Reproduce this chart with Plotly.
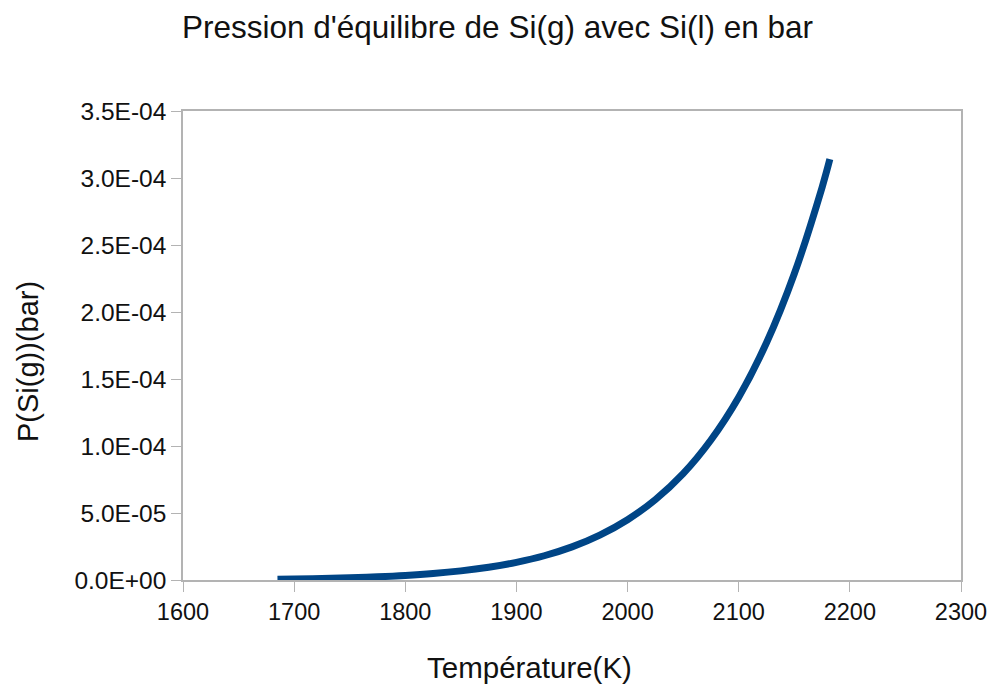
import plotly.graph_objects as go

# Equilibrium pressure of Si(g) over liquid Si, temperature in K, pressure in bar
temperature_k = [1685, 1700, 1725, 1750, 1775, 1800, 1825, 1850, 1875, 1900,
                 1925, 1950, 1975, 2000, 2025, 2050, 2075, 2100, 2125, 2150,
                 2175, 2182]
pressure_bar = [5.8e-7, 7.4e-7, 1.10e-6, 1.61e-6, 2.35e-6, 3.38e-6, 4.81e-6,
                6.80e-6, 9.52e-6, 1.32e-5, 1.81e-5, 2.47e-5, 3.35e-5, 4.50e-5,
                6.00e-5, 7.94e-5, 1.045e-4, 1.364e-4, 1.77e-4, 2.285e-4,
                2.93e-4, 3.14e-4]

x_ticks = [1600, 1700, 1800, 1900, 2000, 2100, 2200, 2300]
y_ticks = [0, 5e-5, 1e-4, 1.5e-4, 2e-4, 2.5e-4, 3e-4, 3.5e-4]
y_tick_labels = ["0.0E+00", "5.0E-05", "1.0E-04", "1.5E-04",
                 "2.0E-04", "2.5E-04", "3.0E-04", "3.5E-04"]

FONT = "Liberation Sans, Arial, sans-serif"
AXIS_GREY = "#b3b3b3"
TEXT = "#111111"
W, H = 989, 685

fig = go.Figure(
    go.Scatter(
        x=temperature_k,
        y=pressure_bar,
        mode="lines",
        line=dict(color="#004586", width=7, shape="spline"),
        hoverinfo="x+y",
    )
)

fig.update_layout(
    width=W,
    height=H,
    margin=dict(l=183, r=28, t=111, b=105),
    paper_bgcolor="white",
    plot_bgcolor="white",
    showlegend=False,
    font=dict(family=FONT, color=TEXT),
    title=dict(
        text="Pression d'équilibre de Si(g) avec Si(l) en bar",
        x=0.503, xanchor="center", xref="container",
        y=1 - 27 / H, yanchor="middle", yref="container",
        font=dict(size=31.5, family=FONT, color=TEXT),
    ),
    annotations=[
        # axis titles placed independently of the plot-area centre
        dict(text="Température(K)", xref="paper", yref="paper",
             x=(529 - 183) / (961 - 183), y=-(667 - 580) / (580 - 111),
             xanchor="center", yanchor="middle", showarrow=False,
             font=dict(size=29.5, family=FONT, color=TEXT)),
        dict(text="P(Si(g))(bar)", xref="paper", yref="paper",
             x=-(183 - 28) / (961 - 183), y=(580 - 362) / (580 - 111),
             xanchor="center", yanchor="middle", textangle=-90,
             showarrow=False,
             font=dict(size=29, family=FONT, color=TEXT)),
    ],
)

fig.update_xaxes(
    range=[1600, 2300],
    tickvals=x_ticks,
    ticktext=[str(v) for v in x_ticks],
    ticks="outside", ticklen=10, tickcolor=AXIS_GREY, tickwidth=1,
    showline=True, linecolor=AXIS_GREY, linewidth=1.5, mirror=True,
    showgrid=False, zeroline=False, automargin=False,
    tickfont=dict(size=23.5, family=FONT, color=TEXT),
)

fig.update_yaxes(
    range=[0, 3.5e-4],
    tickvals=y_ticks,
    ticktext=y_tick_labels,
    ticks="outside", ticklen=10, tickcolor=AXIS_GREY, tickwidth=1,
    showline=True, linecolor=AXIS_GREY, linewidth=1.5, mirror=True,
    showgrid=False, zeroline=False, automargin=False,
    tickfont=dict(size=24.5, family=FONT, color=TEXT),
)

fig.write_html("out.html")
